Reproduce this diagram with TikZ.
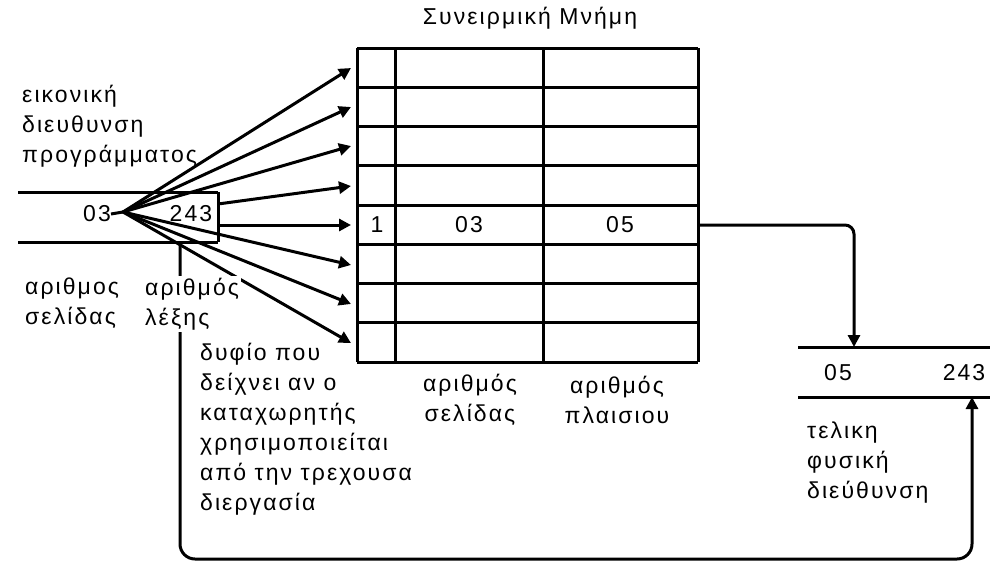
\documentclass[tikz,border=0pt]{standalone}
\usepackage{fontspec}
\setmainfont{Liberation Sans}[LetterSpace=9]
\usetikzlibrary{arrows.meta}
\begin{document}
\begin{tikzpicture}[x=1pt,y=-1pt,
  every node/.style={font=\fontsize{23}{30}\selectfont, inner sep=0pt},
  ln/.style={line width=3pt},
  arr/.style={ln,-{Triangle[length=12pt,width=12pt]}},
  lbl/.style={align=left, anchor=north west},
  cover/.style={lbl, fill=white, inner sep=2pt}]
\useasboundingbox (0,0) rectangle (990,562);
% memory table
\foreach \i in {0,...,8} \draw[ln] (357,{48+39.25*\i}) -- (698,{48+39.25*\i});
\draw[ln] (357,48) -- (357,362) (395,48) -- (395,362) (543,48) -- (543,362) (698,48) -- (698,362);
\node (title) at (530,18) {Συνειρμική Μνήμη};
\node (flag) at (377,225) {1};
\node (pg) at (469,225) {03};
\node (fr) at (620,225) {05};
% input address
\draw[ln] (18,192) -- (218,192) (18,242) -- (218,242) (218,192) -- (218,242);
\node (p03) at (97,214) {03};
\node (w243) at (191,214) {243};
\coordinate (fan) at (123,212);
\draw[ln] (p03.east) -- (fan);
\foreach \k/\y in {1/68,2/107,3/146,6/265,7/304,8/343}
  \coordinate (t\k) at (351,\y);
\coordinate (t4) at (351,186);
\coordinate (t5) at (351,225);
\coordinate (e4) at (218,204);
\coordinate (e5) at (218,225);
\foreach \k in {1,2,3,6,7,8} \draw[arr] (fan) -- (t\k);
\draw[arr] (e4) -- (t4);
\draw[arr] (e5) -- (t5);
% output address
\draw[ln] (798,347) -- (990,347) (798,397) -- (990,397);
\node (o05) at (838,373) {05};
\node (o243) at (964,373) {243};
\coordinate (out5) at (698,225);
\coordinate (inTop) at (854,347);
\draw[arr, rounded corners=9pt] (out5) -| (inTop);
\coordinate (lb) at (180,242);
\coordinate (lc) at (180,559);
\coordinate (rc) at (972,559);
\coordinate (inBot) at (972,397);
\draw[arr, rounded corners=15pt] (lb) -- (lc) -- (rc) -- (inBot);
% labels
\node[lbl] (virt) at (22,85) {εικονική\\διευθυνση\\προγράμματος};
\node[cover] (pnum) at (23,276) {αριθμος\\σελίδας};
\node[cover] (wnum) at (143,276) {αριθμός\\λέξης};
\node[lbl] (bit) at (200,343) {δυφίο που\\δείχνει αν ο\\καταχωρητής\\χρησιμοποιείται\\από την τρεχουσα\\διεργασία};
\node[align=center] (cpg) at (470,400) {αριθμός\\σελίδας};
\node[align=center] (cfr) at (617,400) {αριθμός\\πλαισιου};
\node[lbl] (phys) at (807,422) {τελικη\\φυσική\\διεύθυνση};
\end{tikzpicture}
\end{document}
